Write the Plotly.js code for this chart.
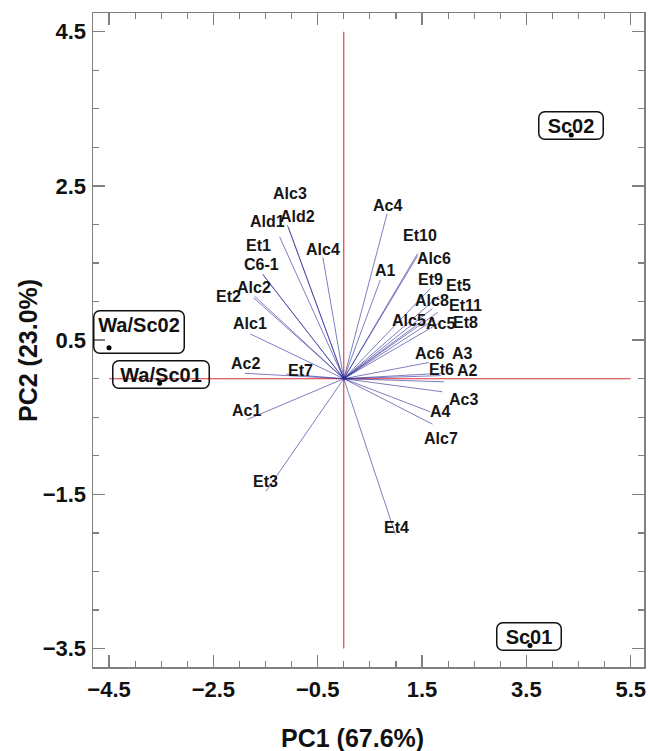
<!DOCTYPE html>
<html>
<head>
<meta charset="utf-8">
<script src="https://cdn.plot.ly/plotly-3.0.1.min.js"></script>
<style>html,body{margin:0;padding:0;background:#fff;}#chart{width:648px;height:751px;}</style>
</head>
<body>
<div id="chart"></div>
<script>
// ---- data ----
var varNames = ['Alc3','Ald2','Ald1','Alc4','Et1','C6-1','Alc2','Et2','Alc1','Ac2','Et7','Ac1','Et3','Et4',
                'Ac4','A1','Et10','Alc6','Et9','Et5','Alc8','Et11','Alc5','Ac5','Et8','Ac6','A3','Et6','A2','Ac3','A4','Alc7'];
var varPC1 = [-1.08,-1.06,-1.23,-0.40,-1.56,-1.54,-1.71,-1.73,-1.79,-1.90,-1.10,-1.85,-1.49,0.99,
              0.83,0.70,1.41,1.42,1.66,1.82,1.70,1.80,1.57,1.72,1.80,1.63,1.86,1.86,1.92,1.89,1.66,1.70];
var varPC2 = [1.99,1.96,1.84,1.57,1.36,1.34,1.07,1.05,0.58,0.07,0.06,-0.53,-1.46,-2.02,
              2.14,1.28,1.62,1.60,1.17,1.07,0.91,0.86,0.78,0.76,0.71,0.21,0.07,0.04,-0.04,-0.17,-0.43,-0.59];

var sampleNames = ['Wa/Sc02','Wa/Sc01','Sc02','Sc01'];
var samplePC1 = [-4.50,-3.53,4.36,3.57];
var samplePC2 = [0.40,-0.06,3.16,-3.46];

var xTitle = 'PC1 (67.6%)';
var yTitle = 'PC2 (23.0%)';
var refLineX = [-4.5, 5.5];
var refLineY = [-3.5, 4.5];

// ---- label placement offsets (px: right, up) ----
var labelShift = {
  'Alc3':[3,32],'Ald2':[9,11],'Ald1':[-12,15],'Alc4':[0,8],'Et1':[-4,28],'C6-1':[-2,11],
  'Alc2':[-1,9],'Et2':[-25,1],'Alc1':[0,10],'Ac2':[1,10],'Et7':[14,4],'Ac1':[-1,9],
  'Et3':[-1,10],'Et4':[1,7],'Ac4':[0,8],'A1':[5,10],'Et10':[3,18],'Alc6':[16,-3],
  'Et9':[0,9],'Et5':[20,11],'Alc8':[0,8],'Et11':[28,7],'Alc5':[-17,-2],'Ac5':[7,-3],
  'Et8':[28,1],'Ac6':[1,9],'A3':[22,20],'Et6':[1,6],'A2':[24,11],'Ac3':[21,-8],
  'A4':[10,0],'Alc7':[9,-14]
};
// sample boxes: [xshift, yshift, width, height, valign]
var sampleBox = {
  'Wa/Sc02':[30,16,85,37,'top'],
  'Wa/Sc01':[1,9,91,22,'middle'],
  'Sc02':[0,10,59,22,'middle'],
  'Sc01':[-1,9,59,22,'middle']
};

var FONT = 'Liberation Sans, Arial, Helvetica, sans-serif';
var traces = [];

// reference lines
traces.push({x: refLineX, y: [0,0], mode:'lines', line:{color:'#dc3038', width:1.1}, hoverinfo:'skip', showlegend:false});
traces.push({x: [0,0], y: refLineY, mode:'lines', line:{color:'#dc3038', width:1.1}, hoverinfo:'skip', showlegend:false});

// loading vectors
for (var i = 0; i < varNames.length; i++) {
  traces.push({x:[0, varPC1[i]], y:[0, varPC2[i]], mode:'lines',
    line:{color:'rgba(40,40,150,0.6)', width:1}, hoverinfo:'skip', showlegend:false});
}

// sample points
traces.push({x: samplePC1, y: samplePC2, mode:'markers', marker:{color:'#000', size:5},
  hoverinfo:'text', text: sampleNames, showlegend:false});

var annotations = [];
for (var j = 0; j < varNames.length; j++) {
  var s = labelShift[varNames[j]] || [0,8];
  annotations.push({x: varPC1[j], y: varPC2[j], text: varNames[j], showarrow:false,
    xshift: s[0], yshift: s[1], xanchor:'center', yanchor:'middle',
    font:{family:FONT, size:16, color:'#161616', weight:700}});
}
for (var k = 0; k < sampleNames.length; k++) {
  var b = sampleBox[sampleNames[k]];
  annotations.push({x: samplePC1[k], y: samplePC2[k], text: sampleNames[k], showarrow:false,
    xshift: b[0], yshift: b[1], xanchor:'center', yanchor:'middle',
    width: b[2], height: b[3], valign: b[4], align:'center',
    bordercolor:'#111', borderwidth:1.5, borderpad:2, bgcolor:'rgba(0,0,0,0)',
    font:{family:FONT, size:20, color:'#111', weight:700}});
}
// axis titles
annotations.push({xref:'paper', yref:'paper', x:0, y:0.5, xanchor:'center', yanchor:'middle',
  xshift:-65, yshift:-11, textangle:-90, showarrow:false, text:yTitle,
  font:{family:FONT, size:25, color:'#111', weight:700}});
annotations.push({xref:'paper', yref:'paper', x:0.5, y:0, xanchor:'center', yanchor:'middle',
  xshift:-16, yshift:-71, showarrow:false, text:xTitle,
  font:{family:FONT, size:25, color:'#111', weight:700}});

var axisCommon = {
  tickmode:'linear', dtick:2, tickformat:'.1f',
  ticks:'inside', ticklen:12, tickwidth:1.5, tickcolor:'#808080',
  showline:true, linecolor:'#808080', linewidth:1.5, mirror:'allticks',
  showgrid:false, zeroline:false,
  minor:{dtick:0.5, ticks:'inside', ticklen:6, tickwidth:1.2, tickcolor:'#808080', showgrid:false},
  tickfont:{family:FONT, size:22, color:'#111', weight:700}
};

var layout = {
  width:648, height:751,
  margin:{l:93, r:4, t:13, b:84, pad:0},
  paper_bgcolor:'#fff', plot_bgcolor:'#fff',
  showlegend:false,
  xaxis: Object.assign({}, axisCommon, {
    range:[-4.807, 5.755], tick0:-4.5, ticklabelstandoff:2,
    title:{text:''}
  }),
  yaxis: Object.assign({}, axisCommon, {
    range:[-3.739, 4.743], tick0:-3.5, ticklabelstandoff:1,
    title:{text:''}
  }),
  annotations: annotations
};

Plotly.newPlot('chart', traces, layout, {displayModeBar:false, staticPlot:true}).then(function(){
  document.querySelectorAll('.annotation rect.bg').forEach(function(r){
    if (parseFloat(r.getAttribute('stroke-width') || r.style.strokeWidth || 0) > 0) {
      r.setAttribute('rx', 6); r.setAttribute('ry', 6);
    }
  });
});
</script>
</body>
</html>
